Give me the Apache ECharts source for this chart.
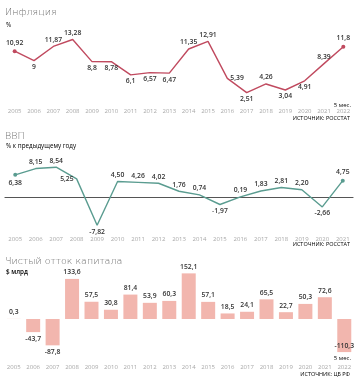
<!DOCTYPE html>
<html><head><meta charset="utf-8">
<script src="https://cdn.jsdelivr.net/npm/echarts@6/dist/echarts.min.js"></script>
<style>html,body{margin:0;padding:0;background:#fff}#c{width:361px;height:380px}</style>
</head><body><div id="c"></div>
<script>
const inflYears = ['2005','2006','2007','2008','2009','2010','2011','2012','2013','2014','2015','2016','2017','2018','2019','2020','2021','2022'];
const inflValues = [10.92, 9, 11.87, 13.28, 8.8, 8.78, 6.1, 6.57, 6.47, 11.35, 12.91, 5.39, 2.51, 4.26, 3.04, 4.91, 8.39, 11.8];
const inflLabelPos = ['top','bottom','top','top','bottom','bottom','bottom','bottom','bottom','top','top','right','bottom','top','bottom','bottom','top','top'];

const gdpYears = ['2005','2006','2007','2008','2009','2010','2011','2012','2013','2014','2015','2016','2017','2018','2019','2020','2021'];
const gdpValues = [6.38, 8.15, 8.54, 5.25, -7.82, 4.50, 4.26, 4.02, 1.76, 0.74, -1.97, 0.19, 1.83, 2.81, 2.20, -2.66, 4.75];
const gdpLabelPos = ['bottom','top','top','left','bottom','top','top','top','top','top','bottom','top','top','top','top','bottom','top'];

const capYears = ['2005','2006','2007','2008','2009','2010','2011','2012','2013','2014','2015','2016','2017','2018','2019','2020','2021','2022'];
const capValues = [0.3, -43.7, -87.8, 133.6, 57.5, 30.8, 81.4, 53.9, 60.3, 152.1, 57.1, 18.5, 24.1, 65.5, 22.7, 50.3, 72.6, -110.3];

const axisLbl = {fontSize: 6, color: '#a8a8a8', fontFamily: 'Open Sans', margin: 3};
const valLbl = {fontSize: 6.8, color: '#333', fontFamily: 'Open Sans', fontWeight: 600, distance: 3};

function lineData(vals, pos, fmt) {
  return vals.map((v, i) => ({
    value: v,
    symbolSize: (i === 0 || i === vals.length - 1) ? 4 : 0,
    label: {show: true, position: pos[i], formatter: () => fmt(v), ...valLbl}
  }));
}

const chart = echarts.init(document.getElementById('c'), null, {renderer: 'canvas'});
const titleStyle = {fontSize: 9.5, color: '#6e6e6e', fontFamily: 'DejaVu Sans', fontWeight: 200};
const subStyle = {fontSize: 6.3, color: '#444', fontFamily: 'Open Sans', fontWeight: 400};
const srcStyle = {fontSize: 5.5, color: '#999', fontFamily: 'Open Sans'};

chart.setOption({
  animation: false,
  title: [
    {text: 'Инфляция', left: 5, top: 8, textStyle: titleStyle, padding: 0},
    {text: 'ВВП', left: 5, top: 132, textStyle: titleStyle, padding: 0},
    {text: 'Чистый отток капитала', left: 5, top: 257, textStyle: titleStyle, padding: 0}
  ],
  graphic: [
    {type: 'text', left: 6, top: 22, style: {text: '%', ...subStyle}},
    {type: 'text', left: 6, top: 143, style: {text: '% к предыдущему году', ...subStyle}},
    {type: 'text', left: 6, top: 269, style: {text: '$ млрд', ...subStyle, fontWeight: 600, color: '#333'}},
    {type: 'text', right: 11, top: 115, style: {text: 'ИСТОЧНИК: РОССТАТ', ...srcStyle}},
    {type: 'text', right: 11, top: 241, style: {text: 'ИСТОЧНИК: РОССТАТ', ...srcStyle}},
    {type: 'text', right: 11, top: 371, style: {text: 'ИСТОЧНИК: ЦБ РФ', ...srcStyle}},
    {type: 'text', right: 10, top: 102, style: {text: '5 мес.', ...srcStyle, fontSize: 6}},
    {type: 'text', right: 10, top: 355, style: {text: '5 мес.', ...srcStyle, fontSize: 6}}
  ],
  grid: [
    {left: 5, right: 8, top: 31, height: 74},
    {left: 5, right: 8, top: 162, height: 71},
    {left: 4, right: 7, top: 271, height: 90}
  ],
  xAxis: [
    {gridIndex: 0, type: 'category', data: inflYears, boundaryGap: true, axisLine: {show: false}, axisTick: {show: false}, axisLabel: {...axisLbl, interval: 0}},
    {gridIndex: 1, type: 'category', data: gdpYears, boundaryGap: true, axisLine: {show: true, onZero: true, lineStyle: {color: '#555', width: 1.2}}, axisTick: {show: false}, axisLabel: {...axisLbl, interval: 0}, position: 'bottom'},
    {gridIndex: 2, type: 'category', data: capYears, boundaryGap: true, axisLine: {show: false}, axisTick: {show: false}, axisLabel: {...axisLbl, interval: 0}}
  ],
  yAxis: [
    {gridIndex: 0, type: 'value', min: 0, max: 15, show: false, splitLine: {show: false}},
    {gridIndex: 1, type: 'value', min: -10, max: 10, show: false, splitLine: {show: false}},
    {gridIndex: 2, type: 'value', min: -140, max: 160, show: false, splitLine: {show: false}}
  ],
  series: [
    {type: 'line', xAxisIndex: 0, yAxisIndex: 0, symbol: 'circle', showSymbol: true,
     lineStyle: {color: '#c04a5f', width: 1.4}, itemStyle: {color: '#c04a5f'},
     data: lineData(inflValues, inflLabelPos, v => String(v).replace('.', ','))},
    {type: 'line', xAxisIndex: 1, yAxisIndex: 1, symbol: 'circle', showSymbol: true,
     lineStyle: {color: '#5a9c90', width: 1.4}, itemStyle: {color: '#5a9c90'},
     data: lineData(gdpValues, gdpLabelPos, v => v.toFixed(2).replace('.', ','))},
    {type: 'bar', xAxisIndex: 2, yAxisIndex: 2, barWidth: 14,
     itemStyle: {color: '#f2b6ae'},
     data: capValues.map((v, i) => ({
       value: v,
       label: {show: true, position: (i === capValues.length - 1) ? 'insideBottom' : (v >= 0 ? 'top' : 'bottom'),
               formatter: () => String(v).replace('.', ','), ...valLbl}
     }))}
  ]
});
</script>
</body></html>
